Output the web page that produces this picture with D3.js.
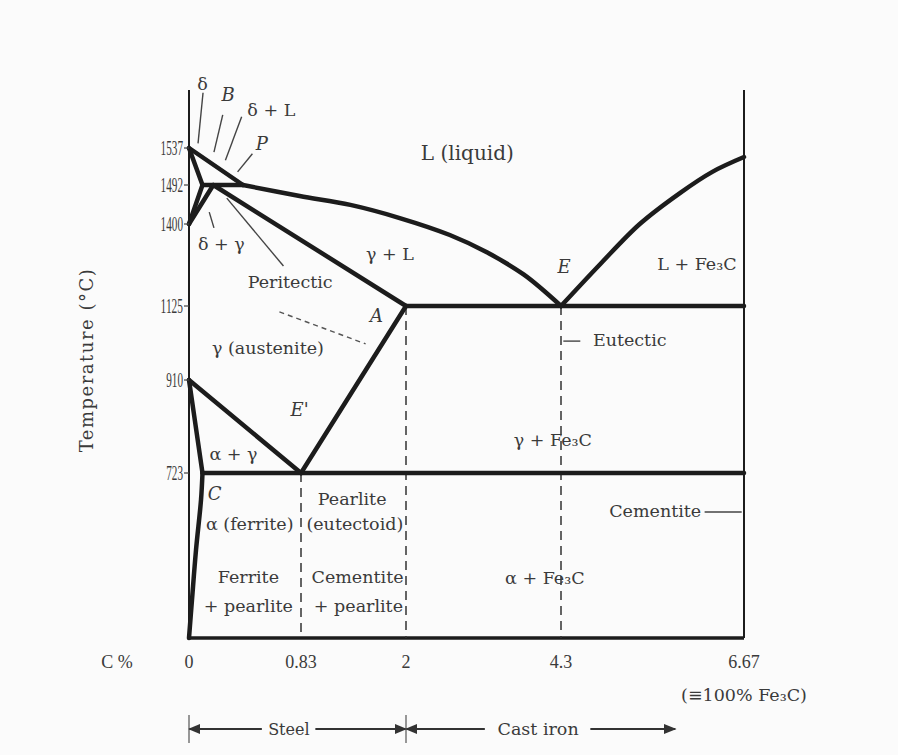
<!DOCTYPE html>
<html>
<head>
<meta charset="utf-8">
<script src="https://cdn.jsdelivr.net/npm/d3@7"></script>
<style>
  body { margin: 0; background: #fbfbfb; }
  text { font-family: "DejaVu Serif", serif; fill: #3a3a3a; }
</style>
</head>
<body>
<div id="chart"></div>
<script>
// carbon % (x) and temperature °C (y) ticks
const carbonTicks = [0, 0.83, 2, 4.3, 6.67]
const carbonTickLabels = ["0", "0.83", "2", "4.3", "6.67"]
const tempTicks = [723, 910, 1125, 1400, 1492, 1537]
const tempTickLabels = ["723", "910", "1125", "1400", "1492", "1537"]

// phase boundaries, [C %, T °C]
const liquidusLeft = [[0, 1537], [0.4, 1492]]
const liquidusCurve = [[0.4, 1492], [0.82, 1466], [1.38, 1445], [1.93, 1414], [2.65, 1363],
                       [3.2, 1305], [3.75, 1230], [4.3, 1125]]
const liquidusRight = [[4.3, 1125], [4.81, 1266], [5.32, 1400], [5.84, 1473], [6.26, 1508], [6.67, 1526]]
const deltaSolidus = [[0, 1537], [0.1, 1492]]
const peritecticLine = [[0.1, 1492], [0.4, 1492]]
const deltaSolvus = [[0.1, 1492], [0, 1400]]
const gammaDelta = [[0, 1400], [0.18, 1492]]
const gammaSolidus = [[0.18, 1492], [2, 1125]]
const a3Line = [[0, 910], [0.83, 723]]
const alphaUpper = [[0, 910], [0.1, 723]]
const eutectoidLine = [[0.1, 723], [6.67, 723]]
const acmLine = [[0.83, 723], [2, 1125]]
const eutecticLine = [[2, 1125], [6.67, 1125]]
const alphaSolvus = [[0.1, 723], [0.089, 605], [0.052, 386], [0.022, 166], [0, 0]]

const dashedVerticals = [[0.83, 723], [2, 1125], [4.3, 1125]]

// region names
const regionLabels = [
  ["γ + L", 1.82, 1279], ["L + Fe₃C", 6.06, 1246],
  ["Peritectic", 0.75, 1185], ["γ (austenite)", 0.585, 986], ["Eutectic", 5.19, 1009],
  ["α + γ", 0.33, 749], ["γ + Fe₃C", 4.18, 777], ["α (ferrite)", 0.45, 473],
  ["Pearlite", 1.40, 583], ["(eutectoid)", 1.43, 473], ["Ferrite", 0.44, 241],
  ["+ pearlite", 0.44, 114], ["Cementite", 1.46, 241], ["+ pearlite", 1.47, 114],
  ["α + Fe₃C", 4.06, 236], ["Cementite", 5.52, 530],
  ["δ", 0.10, 1600], ["δ + L", 0.61, 1572], ["δ + γ", 0.24, 1313]
]
const liquidLabel = ["L (liquid)", 2.91, 1522]
// point names (italic)
const pointLabels = [
  ["B", 0.29, 1588], ["P", 0.54, 1535], ["A", 1.67, 1079], ["E", 4.34, 1236],
  ["E'", 0.82, 838], ["C", 0.19, 605]
]
const leaderLines = [
  [[0.104, 1597], [0.067, 1542]], [[0.25, 1573], [0.185, 1532]],
  [[0.39, 1571], [0.27, 1522]], [[0.47, 1530], [0.36, 1508]],
  [[0.15, 1428], [0.185, 1387]], [[0.28, 1461], [0.70, 1259]],
  [[4.33, 1023], [4.55, 1023]], [[6.16, 552], [6.64, 552]]
]
const dashedLeader = [[0.67, 1108], [1.55, 1015]]

const W = 898, H = 755

const svg = d3.select("#chart").append("svg")
  .attr("width", W).attr("height", H)

const x = d3.scaleLinear().domain([0, 0.83, 2, 4.3, 6.67]).range([189, 301, 406, 561, 744])
const y = d3.scaleLinear().domain([0, 723, 910, 1125, 1400, 1492, 1537, 1600])
  .range([638, 473, 380, 306, 224, 185, 148, 90])

const line = d3.line().x(d => x(d[0])).y(d => y(d[1]))
const curve = d3.line().x(d => x(d[0])).y(d => y(d[1])).curve(d3.curveCatmullRom.alpha(0.5))

const ink = "#1c1c1c"

// frame
svg.append("path").attr("d", line([[0, 0], [0, 1600]]))
  .attr("stroke", ink).attr("stroke-width", 2).attr("fill", "none")
svg.append("path").attr("d", line([[6.67, 0], [6.67, 1600]]))
  .attr("stroke", ink).attr("stroke-width", 2).attr("fill", "none")
svg.append("path").attr("d", line([[0, 0], [6.67, 0]]))
  .attr("stroke", ink).attr("stroke-width", 3.5).attr("fill", "none")

// dashed composition lines
svg.selectAll(".vdash").data(dashedVerticals).enter().append("path")
  .attr("d", d => line([[d[0], d[1]], [d[0], 0]]))
  .attr("stroke", "#333").attr("stroke-width", 1.5)
  .attr("stroke-dasharray", "9,6").attr("fill", "none")

// phase boundaries
const straight = [liquidusLeft, deltaSolidus, peritecticLine, deltaSolvus, gammaDelta,
                  gammaSolidus, a3Line, alphaUpper, eutectoidLine, acmLine, eutecticLine]
svg.selectAll(".phase").data(straight).enter().append("path")
  .attr("d", line)
  .attr("stroke", ink).attr("stroke-width", 4.5).attr("stroke-linecap", "round")
  .attr("fill", "none")

svg.selectAll(".phasec").data([liquidusCurve, liquidusRight, alphaSolvus]).enter().append("path")
  .attr("d", curve)
  .attr("stroke", ink).attr("stroke-width", 4.5).attr("stroke-linecap", "round")
  .attr("fill", "none")

// leaders
svg.selectAll(".leader").data(leaderLines).enter().append("path")
  .attr("d", line).attr("stroke", "#444").attr("stroke-width", 1.4).attr("fill", "none")
svg.append("path").attr("d", line(dashedLeader))
  .attr("stroke", "#555").attr("stroke-width", 1.4).attr("stroke-dasharray", "5,4").attr("fill", "none")

// y ticks
const yt = svg.selectAll(".yt").data(tempTicks).enter().append("g")
yt.append("line").attr("x1", x(0) - 5).attr("x2", x(0))
  .attr("y1", d => y(d)).attr("y2", d => y(d)).attr("stroke", "#444").attr("stroke-width", 1.2)
yt.append("text").attr("x", x(0) - 6).attr("y", d => y(d) + 7)
  .attr("text-anchor", "end")
  .style("font-family", "'Liberation Serif', serif").style("font-size", "20px")
  .attr("textLength", (d, i) => tempTickLabels[i].length * 5.6)
  .attr("lengthAdjust", "spacingAndGlyphs")
  .text((d, i) => tempTickLabels[i])

// x ticks
svg.selectAll(".xt").data(carbonTicks).enter().append("text")
  .attr("x", d => x(d)).attr("y", 668).attr("text-anchor", "middle")
  .style("font-family", "'Liberation Serif', serif").style("font-size", "18px")
  .text((d, i) => carbonTickLabels[i])
svg.append("text").attr("x", 117).attr("y", 668).attr("text-anchor", "middle")
  .style("font-family", "'Liberation Serif', serif").style("font-size", "18px").text("C %")
svg.append("text").attr("x", x(6.67)).attr("y", 701).attr("text-anchor", "middle")
  .style("font-size", "17.5px").text("(≡100% Fe₃C)")

// y axis title
svg.append("text").attr("transform", "translate(93,360) rotate(-90)")
  .attr("text-anchor", "middle").style("font-size", "18px").style("letter-spacing", "1.5px")
  .text("Temperature (°C)")

// region labels
svg.selectAll(".rl").data(regionLabels).enter().append("text")
  .attr("x", d => x(d[1])).attr("y", d => y(d[2]))
  .attr("text-anchor", "middle").style("font-size", "17.5px")
  .text(d => d[0])
svg.append("text").attr("x", x(liquidLabel[1])).attr("y", y(liquidLabel[2]))
  .attr("text-anchor", "middle").style("font-size", "20px").text(liquidLabel[0])
svg.selectAll(".pl").data(pointLabels).enter().append("text")
  .attr("x", d => x(d[1])).attr("y", d => y(d[2]))
  .attr("text-anchor", "middle").style("font-size", "18px").style("font-style", "italic")
  .text(d => d[0])

// steel / cast iron arrows
const defs = svg.append("defs")
defs.append("marker").attr("id", "ah").attr("viewBox", "0 0 10 10")
  .attr("refX", 9).attr("refY", 5).attr("markerWidth", 7).attr("markerHeight", 7)
  .attr("orient", "auto")
  .append("path").attr("d", "M0,1L10,5L0,9Z").attr("fill", "#333")

const ay = 729
const arrowSegs = [[0.54, 0], [0.99, 2], [3.17, 2], [4.68, 5.78]]
svg.selectAll(".arr").data(arrowSegs).enter().append("line")
  .attr("x1", d => x(d[0])).attr("x2", d => x(d[1]))
  .attr("y1", ay).attr("y2", ay)
  .attr("stroke", "#333").attr("stroke-width", 1.8)
  .attr("marker-end", "url(#ah)")
svg.selectAll(".arrt").data([0, 2]).enter().append("line")
  .attr("x1", d => x(d)).attr("x2", d => x(d))
  .attr("y1", ay - 14).attr("y2", ay + 14)
  .attr("stroke", "#555").attr("stroke-width", 1.2)
svg.append("text").attr("x", x(0.74)).attr("y", ay + 6).attr("text-anchor", "middle")
  .style("font-size", "16px").text("Steel")
svg.append("text").attr("x", x(3.96)).attr("y", ay + 6).attr("text-anchor", "middle")
  .style("font-size", "17.5px").text("Cast iron")
</script>
</body>
</html>
